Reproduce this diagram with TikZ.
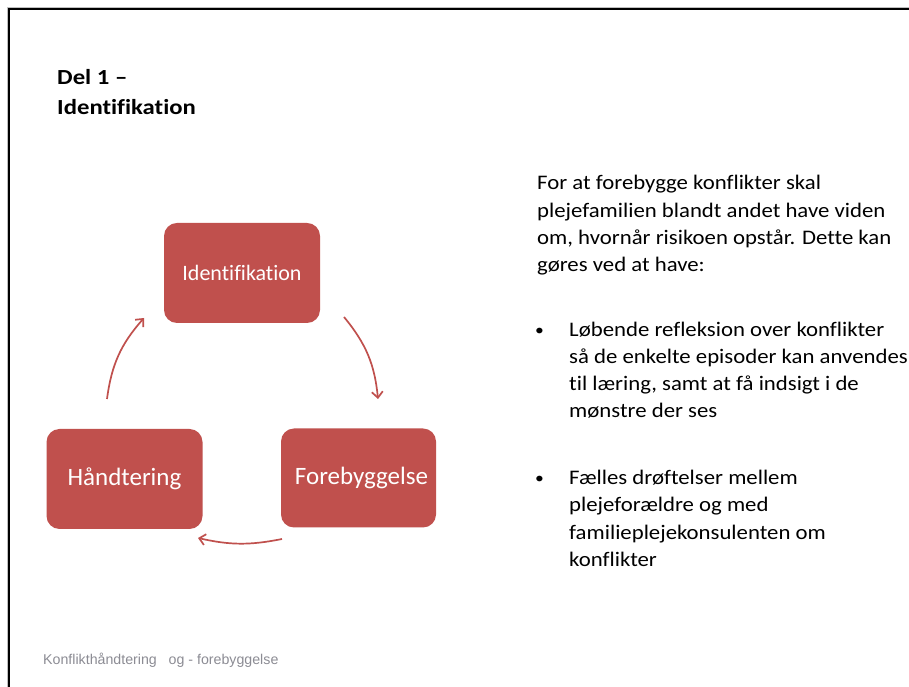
\documentclass[tikz,border=0pt]{standalone}
\usepackage{fontspec}
\setmainfont{Carlito}[Ligatures=NoCommon]
\newfontfamily\bodyfont{Carlito}[FakeStretch=1.1, Ligatures=NoCommon]
\newfontfamily\titlefont{Carlito}[FakeStretch=1.15, Ligatures=NoCommon]
\newfontfamily\boxfont{Carlito}[Ligatures=NoCommon]
\newfontfamily\footfont{Liberation Sans}
\usetikzlibrary{arrows.meta}
\definecolor{boxred}{HTML}{C0504D}
\definecolor{footgray}{RGB}{140,140,148}
\tikzset{
  stagebox/.style={rounded corners=13pt, fill=boxred, draw=none, text=white,
    inner sep=0pt, minimum width=156pt, minimum height=100pt, font=\boxfont},
  cyc/.style={draw=boxred, line width=1.7pt,
    -{Straight Barb[length=6pt,width=11pt]}},
  bodyline/.style={anchor=base west, inner sep=0pt, font=\bodyfont\fontsize{20.7pt}{27pt}\selectfont},
  bulletmark/.style={anchor=base west, inner sep=0pt, font=\bodyfont\fontsize{16pt}{27pt}\selectfont},
  titleline/.style={anchor=base west, inner sep=0pt, font=\titlefont\bfseries\fontsize{21.5pt}{30pt}\selectfont},
  footline/.style={anchor=base west, inner sep=0pt, text=footgray, font=\footfont\fontsize{14.2pt}{16pt}\selectfont}
}
\begin{document}
\begin{tikzpicture}[x=1pt,y=1pt]
\useasboundingbox (0,0) rectangle (909,687);
\fill[white] (0,0) rectangle (909,687);
% frame
\draw[gray!50, line width=1pt] (7.3,0) -- (7.3,679.7) -- (909,679.7);
\draw[black, line width=1.7pt] (9,0) -- (9,678) -- (909,678);

% title
\node[titleline] (t1) at (57,602) {Del 1 –};
\node[titleline] (t2) at (57,572) {Identifikation};

% cycle boxes
\node[stagebox, font=\boxfont\fontsize{22pt}{24pt}\selectfont] (id) at (242,414) {Identifikation};
\node[stagebox, font=\boxfont\fontsize{25pt}{28pt}\selectfont] (hand) at (124.5,208) {Håndtering};
\node[stagebox, minimum width=155pt, minimum height=99pt, font=\boxfont\fontsize{25pt}{28pt}\selectfont] (fore) at (358.5,209) {\hspace*{6pt}Forebyggelse};

% connector end points
\coordinate (a1s) at (344,370);
\coordinate (a1e) at (378,288);
\coordinate (a2s) at (282,148);
\coordinate (a2e) at (198,149);
\coordinate (a3s) at (107,288);
\coordinate (a3e) at (144,369);
\draw[cyc] (a1s) to[bend left=17] (a1e);
\draw[cyc] (a2s) to[bend left=12] (a2e);
\draw[cyc] (a3s) to[bend left=17] (a3e);

% text
\node[bodyline] (p1) at (537,497) {For at forebygge konflikter skal};
\node[bodyline] (p2) at (537,469.7) {plejefamilien blandt andet have viden};
\node[bodyline] (p3) at (537,442.4) {om, hvornår risikoen opstår. Dette kan};
\node[bodyline] (p4) at (537,415.1) {gøres ved at have:};

\node[bulletmark] (b1) at (535,351) {\textbullet};
\node[bodyline] (b1l1) at (569,350) {Løbende refleksion over konflikter};
\node[bodyline] (b1l2) at (569,323) {så de enkelte episoder kan anvendes};
\node[bodyline] (b1l3) at (569,296) {til læring, samt at få indsigt i de};
\node[bodyline] (b1l4) at (569,269) {mønstre der ses};

\node[bulletmark] (b2) at (535,203) {\textbullet};
\node[bodyline] (b2l1) at (569,202) {Fælles drøftelser mellem};
\node[bodyline] (b2l2) at (569,175) {plejeforældre og med};
\node[bodyline] (b2l3) at (569,147.5) {familieplejekonsulenten om};
\node[bodyline] (b2l4) at (569,120) {konflikter};

% footer
\node[footline] (foot) at (43,22) {Konflikthåndtering\ \ \ og - forebyggelse};
\end{tikzpicture}
\end{document}
